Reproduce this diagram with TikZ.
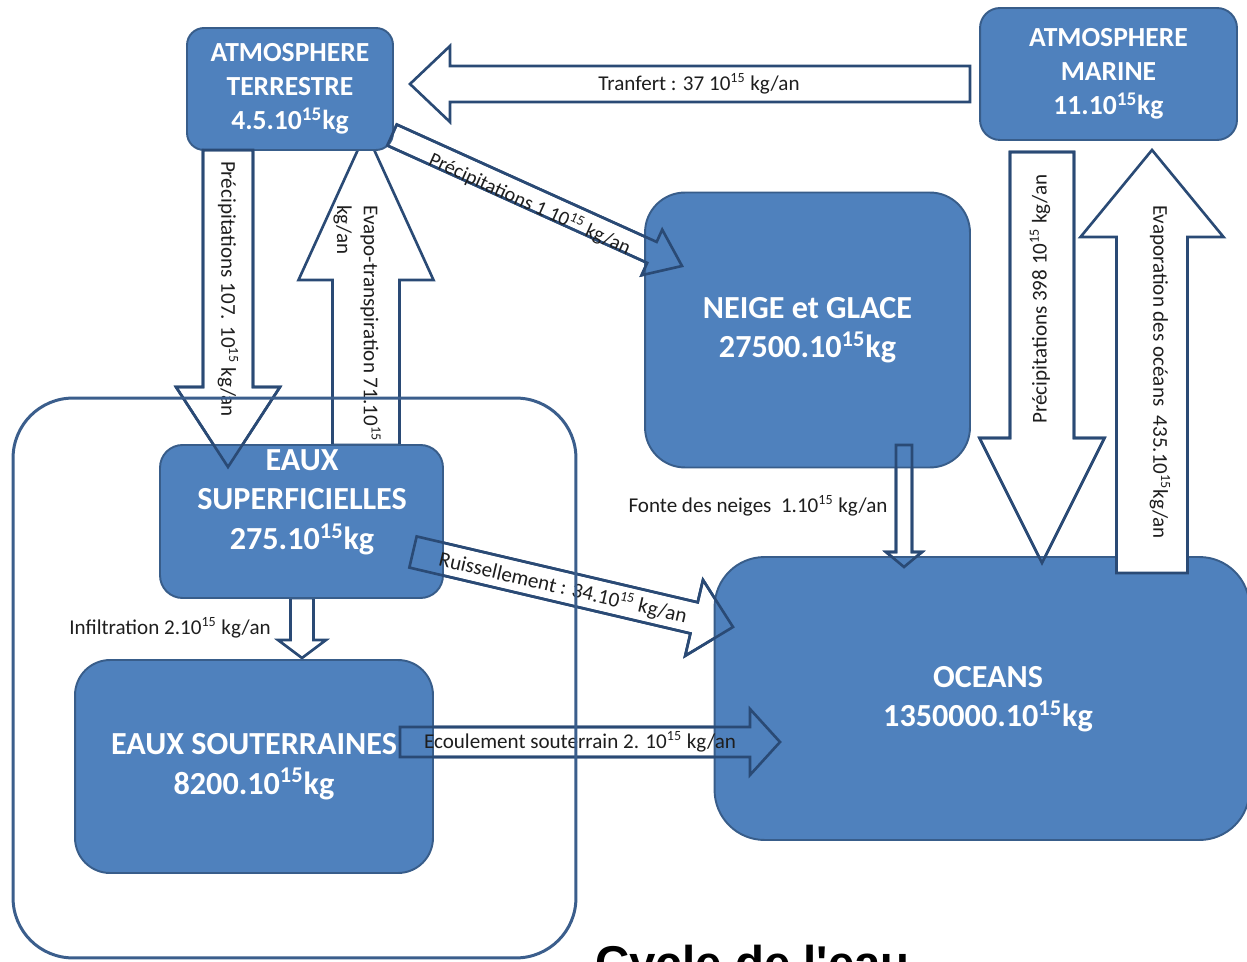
\documentclass[tikz,border=0pt]{standalone}
\usepackage{fontspec}
\setmainfont{Carlito}
\newfontfamily\titlefont{Liberation Sans}
\usetikzlibrary{calc}
\definecolor{boxfill}{HTML}{4F81BD}
\definecolor{boxline}{HTML}{385D8A}
\definecolor{arrcol}{HTML}{2A4A75}
\definecolor{framecol}{HTML}{3B5E8C}
\definecolor{labtext}{HTML}{1E1E1E}
% block arrow: #1 style, #2 tail, #3 tip, #4 half shaft, #5 half head, #6 head length (px)
\newcommand{\blkarrow}[6]{%
  \pgfmathsetlengthmacro{\bw}{#4*0.02cm}%
  \pgfmathsetlengthmacro{\bW}{#5*0.02cm}%
  \pgfmathsetlengthmacro{\bL}{#6*0.02cm}%
  \coordinate (bb) at ($(#3)!\bL!(#2)$);%
  \path[#1] ($(#2)!\bw!90:(#3)$) -- ($(bb)!\bw!-90:(#2)$) -- ($(bb)!\bW!-90:(#2)$) -- (#3)
    -- ($(bb)!\bW!90:(#2)$) -- ($(bb)!\bw!90:(#2)$) -- ($(#2)!\bw!-90:(#3)$) -- cycle;%
}
\begin{document}
\begin{tikzpicture}[x=0.02cm,y=-0.02cm,
  box/.style={draw=boxline, fill=boxfill, line width=1.1pt, text=white, align=center, inner sep=0pt},
  smallbox/.style={box, font=\bfseries\fontsize{15.7}{19.3}\selectfont},
  bigbox/.style={box, font=\bfseries\fontsize{18.3}{22.4}\selectfont},
  boxtext/.style={text=white, align=center, inner sep=0pt, font=\bfseries\fontsize{18.3}{22.4}\selectfont},
  flowlabel/.style={font=\fontsize{12}{15.3}\selectfont, text=labtext, inner sep=0pt},
  arrfill/.style={fill=white, draw=arrcol, line width=1.5pt, line join=miter},
  arrstroke/.style={draw=arrcol, line width=1.5pt, line join=miter},
]
\useasboundingbox (0,0) rectangle (1247,962);
\clip (0,0) rectangle (1247,962);
\fill[white] (0,0) rectangle (1247,962);

% arrow end points
\coordinate (trS) at (970,84);    \coordinate (trE) at (410,84);
\coordinate (p1S) at (392,135);   \coordinate (p1E) at (682,266);
\coordinate (p107S) at (228,150); \coordinate (p107E) at (228,467);
\coordinate (etS) at (366,445);   \coordinate (etE) at (366,132);
\coordinate (ruS) at (413,552);   \coordinate (ruE) at (733,627);
\coordinate (foS) at (904,445);   \coordinate (foE) at (904,567);
\coordinate (inS) at (302,598);   \coordinate (inE) at (302,658);
\coordinate (ecS) at (400,742);   \coordinate (ecE) at (780,742);
\coordinate (p398S) at (1042,152); \coordinate (p398E) at (1042,563);
\coordinate (evS) at (1152,573);  \coordinate (evE) at (1152,150);

% pass 1: filled arrows
\blkarrow{arrfill}{trS}{trE}{18}{38}{40}
\blkarrow{arrfill}{p1S}{p1E}{11.5}{25}{33}
\blkarrow{arrfill}{p107S}{p107E}{25}{52}{80}
\blkarrow{arrfill}{etS}{etE}{33.5}{67.5}{148}
\blkarrow{arrfill}{ruS}{ruE}{16}{39}{40}
\blkarrow{arrfill}{foS}{foE}{8}{18}{15}
\blkarrow{arrfill}{inS}{inE}{11.5}{24}{18}
\blkarrow{arrfill}{ecS}{ecE}{15}{33}{30}
\blkarrow{arrfill}{p398S}{p398E}{32}{62.5}{125}

\node[flowlabel, rotate=-90, anchor=north west, align=left] (etL) at (381,205)
  {Evapo-transpiration 71.10\textsuperscript{15}\\kg/an};

% boxes
\node[smallbox, minimum width=4.12cm, minimum height=2.44cm, rounded corners=0.34cm] (atmT) at (290,89)
  {ATMOSPHERE\\TERRESTRE\\4.5.10\textsuperscript{15}kg};
\node[smallbox, minimum width=5.14cm, minimum height=2.64cm, rounded corners=0.4cm] (atmM) at (1108.5,74)
  {ATMOSPHERE\\MARINE\\11.10\textsuperscript{15}kg};
\node[bigbox, minimum width=6.5cm, minimum height=5.5cm, rounded corners=0.8cm] (neige) at (807.5,330)
  {NEIGE et GLACE\\27500.10\textsuperscript{15}kg};
\node[bigbox, minimum width=5.66cm, minimum height=3.06cm, rounded corners=0.45cm] (eauxSup) at (301.5,521.5) {};
\node[boxtext] (eauxSupTxt) at (302,502) {EAUX\\SUPERFICIELLES\\275.10\textsuperscript{15}kg};
\node[bigbox, minimum width=7.16cm, minimum height=4.26cm, rounded corners=0.7cm] (eauxSout) at (254,766.5)
  {EAUX SOUTERRAINES\\8200.10\textsuperscript{15}kg};
\node[bigbox, minimum width=10.7cm, minimum height=5.66cm, rounded corners=1cm] (oceans) at (982,698.5) {};
\node[boxtext] (oceansTxt) at (988,699) {OCEANS\\1350000.10\textsuperscript{15}kg};

% pass 3: outlines over boxes
\blkarrow{arrstroke}{p1S}{p1E}{11.5}{25}{33}
\blkarrow{arrstroke}{p107S}{p107E}{25}{52}{80}
\blkarrow{arrstroke}{ruS}{ruE}{16}{39}{40}
\blkarrow{arrstroke}{foS}{foE}{8}{18}{15}
\blkarrow{arrstroke}{ecS}{ecE}{15}{33}{30}
\blkarrow{arrstroke}{p398S}{p398E}{32}{62.5}{125}
\blkarrow{arrfill}{evS}{evE}{35.5}{71.5}{87}

% labels
\node[flowlabel] (trL) at (699,84) {Tranfert : 37 10\textsuperscript{15} kg/an};
\node[flowlabel, font=\fontsize{11.5}{14}\selectfont, rotate=-24.3] (p1L) at (530,203.5) {Précipitations 1 10\textsuperscript{15} kg/an};
\node[flowlabel, rotate=-90] (p107L) at (228,289) {Précipitations 107. 10\textsuperscript{15} kg/an};
\node[flowlabel, rotate=-13.1] (ruL) at (563,588) {Ruissellement : 34.10\textsuperscript{15} kg/an};
\node[flowlabel] (foL) at (758,506) {Fonte des neiges \ 1.10\textsuperscript{15} kg/an};
\node[flowlabel] (inL) at (170,628) {Infiltration 2.10\textsuperscript{15} kg/an};
\node[flowlabel] (ecL) at (580,742) {Ecoulement souterrain 2. 10\textsuperscript{15} kg/an};
\node[flowlabel, rotate=90] (p398L) at (1040,299) {Précipitations 398 10\textsuperscript{15} kg/an};
\node[flowlabel, rotate=-90] (evL) at (1160,372) {Evaporation des océans \ 435.10\textsuperscript{15}kg/an};

% frame around continental waters
\node[draw=framecol, line width=1.7pt, rounded corners=1.2cm, minimum width=11.26cm, minimum height=11.2cm, inner sep=0pt] (frame) at (294.5,678) {};

% title (cut by the page edge)
\node[font=\titlefont\bfseries\fontsize{27}{32}\selectfont, anchor=north west, inner sep=0pt] (title) at (595,945) {Cycle de l'eau};
\end{tikzpicture}
\end{document}
